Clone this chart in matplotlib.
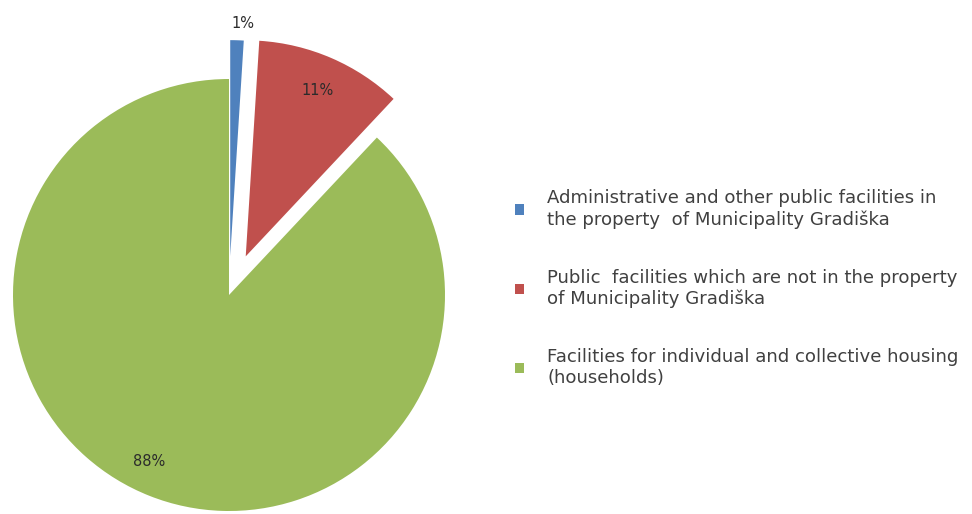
import matplotlib.pyplot as plt

# share of facilities by ownership / use
categories = [
    "Administrative and other public facilities in\nthe property  of Municipality Gradiška",
    "Public  facilities which are not in the property\nof Municipality Gradiška",
    "Facilities for individual and collective housing\n(households)",
]
shares = [1, 11, 88]
colors = ["#4F81BD", "#C0504D", "#9BBB59"]

plt.rcParams['font.family'] = ['DejaVu Sans']

W, H = 972, 514
cx, cy, R = 229, 295, 216   # pie centre and radius in pixels

fig = plt.figure(figsize=(W / 100, H / 100), dpi=100)
ax = fig.add_axes([0, 0, 1, 1])

wedges, _ = ax.pie(shares, colors=colors, explode=[0.18, 0.195, 0.0],
                   startangle=90, counterclock=False, radius=1.0)

# 1 data unit = R px
ax.set_xlim(-cx / R, (W - cx) / R)
ax.set_ylim(-(H - cy) / R, cy / R)
ax.set_aspect('auto')
ax.axis('off')

# percentage labels (pixel positions converted to data units)
label_px = [(243, 23), (318, 90), (149, 462)]
for val, (px, py) in zip(shares, label_px):
    ax.text((px - cx) / R, (cy - py) / R, f"{val}%", ha='center', va='center',
            fontsize=10.5, color='#2b2b2b')

leg = ax.legend(wedges, categories, loc='center left',
                bbox_to_anchor=(515 / W, 1 - 288 / H), frameon=False,
                borderpad=0, borderaxespad=0,
                fontsize=13.1, handlelength=0.52, handleheight=0.52,
                handletextpad=1.25, labelspacing=2.2, labelcolor='#404040')

fig.savefig("out.png", dpi=100)
